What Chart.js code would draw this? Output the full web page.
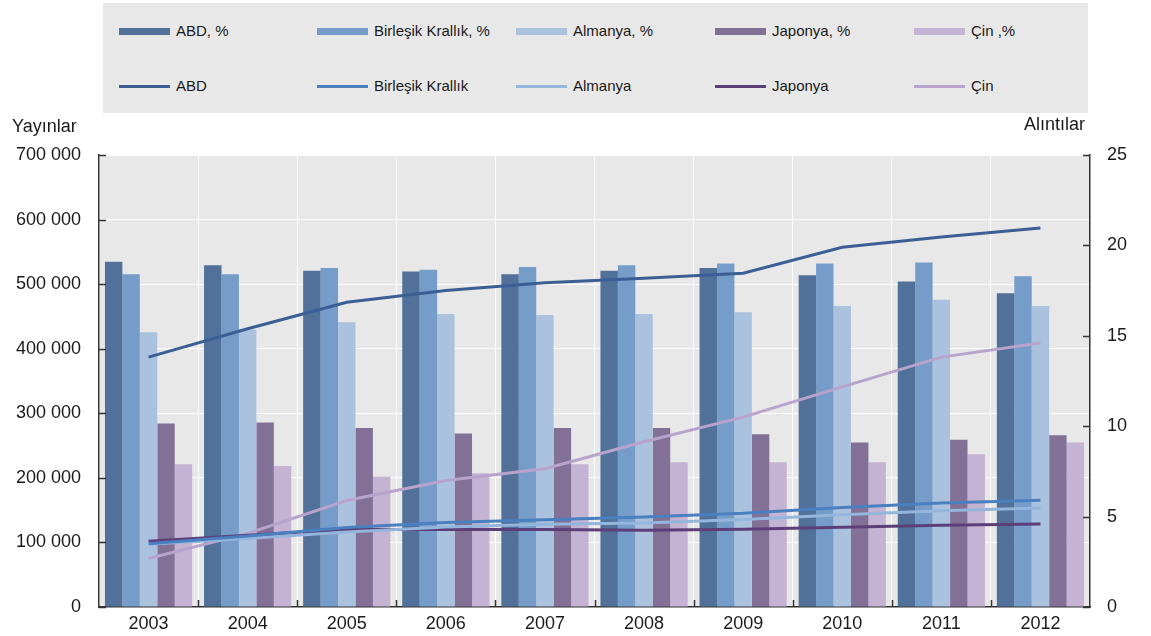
<!DOCTYPE html>
<html>
<head>
<meta charset="utf-8">
<script src="https://cdn.jsdelivr.net/npm/chart.js@4"></script>
<style>
	html, body { margin: 0; padding: 0; background: #fff; }
	#wrap { position: relative; width: 1151px; height: 636px; font-family: 'Liberation Sans', Arial, sans-serif; color: #1a1a1a; }
	#chart { position: absolute; left: 0; top: 0; }
	#legend { position: absolute; left: 103px; top: 3px; width: 985px; height: 110px; background: #e8e8e8; }
	.item { position: absolute; font-size: 15px; white-space: nowrap; line-height: 18px; }
	.item span.sw { position: absolute; left: 0; width: 51px; }
	.item span.txt { position: absolute; left: 57px; top: 0; }
	.axisTitle { position: absolute; font-size: 18px; line-height: 20px; }
</style>
</head>
<body>
<div id="wrap">
	<canvas id="chart" width="1151" height="636"></canvas>
	<div id="legend"></div>
	<div class="axisTitle" style="left:12px; top:116px;">Yayınlar</div>
	<div class="axisTitle" style="right:66px; top:114px;">Alıntılar</div>
</div>
<script>
const years = ['2003', '2004', '2005', '2006', '2007', '2008', '2009', '2010', '2011', '2012'];

//Alıntılar, % (right axis, bars)
const abdPct = [19.1, 18.9, 18.6, 18.55, 18.4, 18.6, 18.75, 18.35, 18.0, 17.35];
const ukPct = [18.4, 18.4, 18.75, 18.65, 18.8, 18.9, 19.0, 19.0, 19.05, 18.3];
const dePct = [15.2, 15.35, 15.75, 16.2, 16.15, 16.2, 16.3, 16.65, 17.0, 16.65];
const jpPct = [10.15, 10.2, 9.9, 9.6, 9.9, 9.9, 9.55, 9.1, 9.25, 9.5];
const cnPct = [7.9, 7.8, 7.2, 7.4, 7.9, 8.0, 8.0, 8.0, 8.45, 9.1];

//Yayınlar (left axis, lines)
const abdPub = [387000, 431000, 472000, 490000, 502000, 509000, 517000, 557000, 573000, 587000];
const ukPub = [98000, 110000, 123000, 131000, 135000, 139500, 145000, 154000, 161000, 165500];
const dePub = [97000, 106000, 116000, 124000, 128000, 130000, 135500, 143000, 149000, 153500];
const jpPub = [102000, 111000, 120000, 120000, 120000, 119000, 120500, 123500, 126500, 128500];
const cnPub = [75000, 114000, 165000, 196000, 214000, 256000, 294000, 341000, 387000, 409000];

const barSeries = [
	{label: 'ABD, %', data: abdPct, color: '#51719a'},
	{label: 'Birleşik Krallık, %', data: ukPct, color: '#769dca'},
	{label: 'Almanya, %', data: dePct, color: '#abc2df'},
	{label: 'Japonya, %', data: jpPct, color: '#827096'},
	{label: 'Çin ,%', data: cnPct, color: '#c4b3d2'}
];
const lineSeries = [
	{label: 'ABD', data: abdPub, color: '#3b5f95'},
	{label: 'Birleşik Krallık', data: ukPub, color: '#4a7fc0'},
	{label: 'Almanya', data: dePub, color: '#95b6dc'},
	{label: 'Japonya', data: jpPub, color: '#5c3f78'},
	{label: 'Çin', data: cnPub, color: '#b8a3cd'}
];

const FONT = "'Liberation Sans', Arial, sans-serif";
const AXIS = '#333333';

function fmt(v) {
	return String(v).replace(/\B(?=(\d{3})+(?!\d))/g, ' ');
}

const datasets = [];
lineSeries.forEach(function(s) {
	datasets.push({
		type: 'line',
		label: s.label,
		data: s.data,
		yAxisID: 'y',
		borderColor: s.color,
		backgroundColor: s.color,
		borderWidth: 3,
		pointRadius: 0,
		tension: 0,
		fill: false,
		order: 0
	});
});
barSeries.forEach(function(s) {
	datasets.push({
		type: 'bar',
		label: s.label,
		data: s.data,
		yAxisID: 'y1',
		backgroundColor: s.color,
		borderWidth: 0,
		barPercentage: 1.0,
		categoryPercentage: 0.88,
		order: 1
	});
});

//Gray plot background, drawn under the grid
const plotBackground = {
	id: 'plotBackground',
	beforeDraw(chart) {
		const a = chart.chartArea;
		const ctx = chart.ctx;
		ctx.save();
		ctx.fillStyle = '#e8e8e8';
		ctx.fillRect(a.left, a.top, a.right - a.left, a.bottom - a.top);
		ctx.restore();
	}
};

//Short tick marks pointing into the plot
const innerTicks = {
	id: 'innerTicks',
	afterDraw(chart) {
		const a = chart.chartArea;
		const ctx = chart.ctx;
		const len = 7;
		ctx.save();
		ctx.strokeStyle = AXIS;
		ctx.lineWidth = 1.5;
		ctx.beginPath();
		chart.scales.y.ticks.forEach(function(t) {
			const py = Math.round(chart.scales.y.getPixelForValue(t.value)) + 0.5;
			ctx.moveTo(a.left, py);
			ctx.lineTo(a.left + len, py);
		});
		chart.scales.y1.ticks.forEach(function(t) {
			const py = Math.round(chart.scales.y1.getPixelForValue(t.value)) + 0.5;
			ctx.moveTo(a.right, py);
			ctx.lineTo(a.right - len, py);
		});
		const step = (a.right - a.left) / years.length;
		for (let i = 1; i < years.length; i++) {
			const px = Math.round(a.left + i * step) + 0.5;
			ctx.moveTo(px, a.bottom);
			ctx.lineTo(px, a.bottom - len);
		}
		ctx.stroke();
		ctx.restore();
	}
};

new Chart(document.getElementById('chart'), {
	type: 'bar',
	data: {
		labels: years,
		datasets: datasets
	},
	options: {
		responsive: false,
		animation: false,
		layout: {
			padding: {top: 155, left: 0, right: 0, bottom: 0}
		},
		plugins: {
			legend: {display: false},
			tooltip: {enabled: false}
		},
		scales: {
			x: {
				offset: true,
				grid: {color: '#ffffff', lineWidth: 1, offset: true, drawTicks: false},
				border: {color: AXIS, width: 1.5},
				ticks: {color: '#1a1a1a', font: {family: FONT, size: 18}, padding: 6},
				afterFit(scale) { scale.height = 29; }
			},
			y: {
				position: 'left',
				min: 0,
				max: 700000,
				grid: {color: '#ffffff', lineWidth: 1, drawTicks: false},
				border: {color: AXIS, width: 1.5},
				ticks: {
					stepSize: 100000,
					color: '#1a1a1a',
					font: {family: FONT, size: 18},
					padding: 18,
					callback: function(v) { return fmt(v); }
				},
				afterFit(scale) { scale.width = 99; }
			},
			y1: {
				position: 'right',
				min: 0,
				max: 25,
				grid: {drawOnChartArea: false, drawTicks: false},
				border: {color: AXIS, width: 1.5},
				ticks: {stepSize: 5, color: '#1a1a1a', font: {family: FONT, size: 18}, padding: 17},
				afterFit(scale) { scale.width = 61; }
			}
		}
	},
	plugins: [plotBackground, innerTicks]
});

//Legend: bars in the first row, lines in the second
const legend = document.getElementById('legend');
const columns = [16, 214, 413, 612, 811];
function addItem(s, col, rowTop, swHeight, swTop) {
	const item = document.createElement('div');
	item.className = 'item';
	item.style.left = columns[col] + 'px';
	item.style.top = rowTop + 'px';
	const sw = document.createElement('span');
	sw.className = 'sw';
	sw.style.height = swHeight + 'px';
	sw.style.top = swTop + 'px';
	sw.style.background = s.color;
	const txt = document.createElement('span');
	txt.className = 'txt';
	txt.textContent = s.label;
	item.appendChild(sw);
	item.appendChild(txt);
	legend.appendChild(item);
}
barSeries.forEach(function(s, i) { addItem(s, i, 19, 7, 6); });
lineSeries.forEach(function(s, i) { addItem(s, i, 74, 3, 8); });
</script>
</body>
</html>
